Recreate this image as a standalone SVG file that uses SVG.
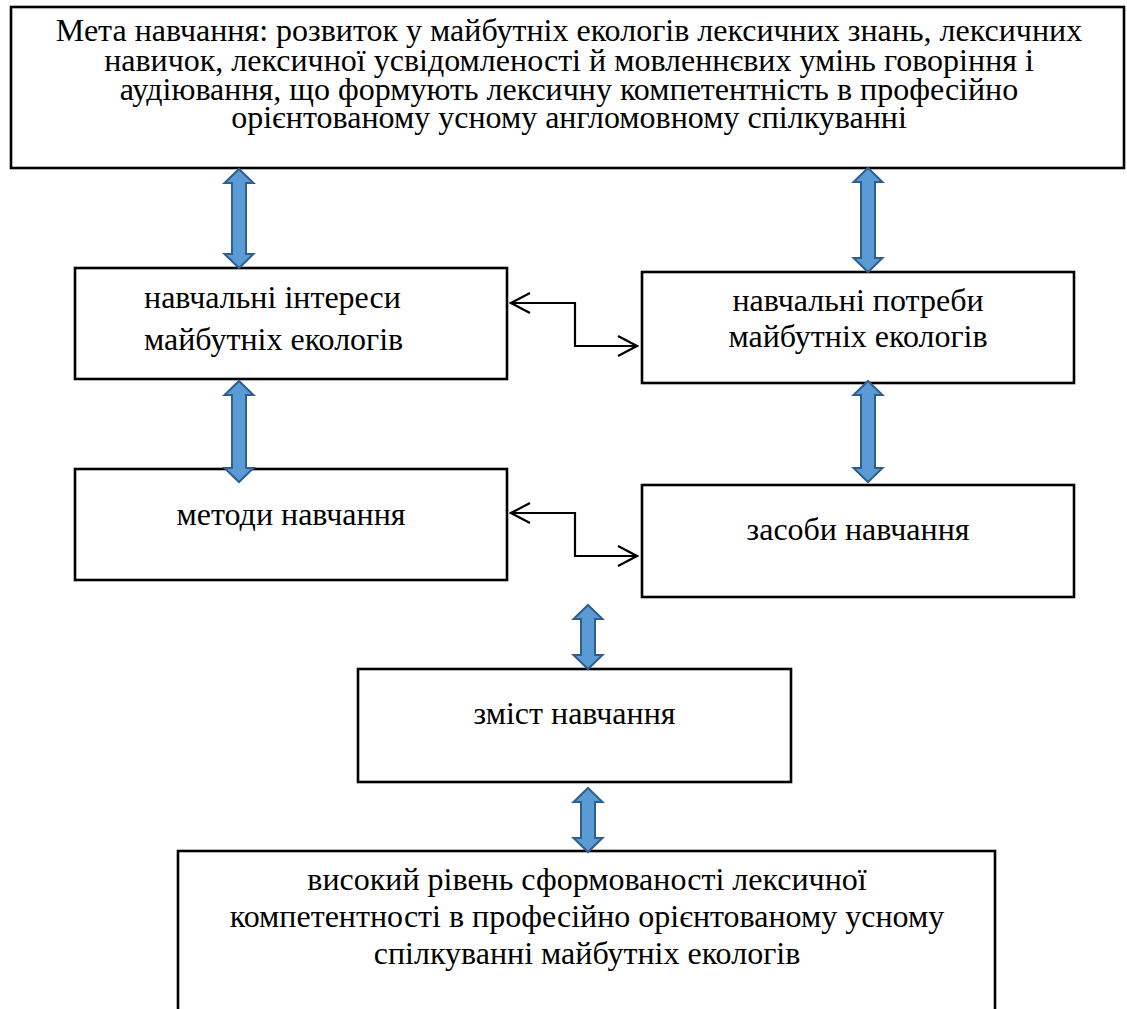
<svg xmlns="http://www.w3.org/2000/svg" width="1127" height="1009" viewBox="0 0 1127 1009">
<style>
.box{fill:#fff;stroke:#000;stroke-width:2.6}
text{font-family:'Liberation Serif','Times New Roman','DejaVu Serif',serif;fill:#000}
.t{font-size:32px}
.tt{font-size:32px}
.m{text-anchor:middle}
.ba{fill:#5B9BD5;stroke:#2F5F8E;stroke-width:2;stroke-linejoin:miter}
.ln{fill:none;stroke:#000;stroke-width:2.2}
</style>
<defs>
<marker id="oa" viewBox="-22 -12 24 24" markerWidth="24" markerHeight="24" refX="0" refY="0" markerUnits="userSpaceOnUse" orient="auto-start-reverse">
<path d="M-19,-10 L0,0 L-19,10" fill="none" stroke="#000" stroke-width="2.2"/>
</marker>
</defs>
<rect width="1127" height="1009" fill="#fff"/>
<g id="goal">
<rect class="box" x="11" y="7" width="1113" height="161"/>
<text class="tt m" x="569" y="41">Мета навчання: розвиток у майбутніх екологів лексичних знань, лексичних</text>
<text class="tt m" x="569" y="71">навичок, лексичної усвідомленості й мовленнєвих умінь говоріння і</text>
<text class="tt m" x="569" y="100">аудіювання, що формують лексичну компетентність в професійно</text>
<text class="tt m" x="569" y="128">орієнтованому усному англомовному спілкуванні</text>
</g>
<g id="interests">
<rect class="box" x="75" y="268" width="432" height="111"/>
<text class="t" x="144" y="308">навчальні інтереси</text>
<text class="t" x="144" y="350">майбутніх екологів</text>
</g>
<g id="needs">
<rect class="box" x="642" y="272" width="432" height="111"/>
<text class="t m" x="858" y="311">навчальні потреби</text>
<text class="t m" x="858" y="347">майбутніх екологів</text>
</g>
<g id="methods">
<rect class="box" x="75" y="469" width="432" height="111"/>
<text class="t m" x="291" y="525">методи навчання</text>
</g>
<g id="means">
<rect class="box" x="642" y="485" width="432" height="112"/>
<text class="t m" x="858" y="540">засоби навчання</text>
</g>
<g id="content">
<rect class="box" x="358" y="669" width="433" height="113"/>
<text class="t m" x="574.5" y="724">зміст навчання</text>
</g>
<g id="result">
<rect class="box" x="178" y="851" width="817" height="180"/>
<text class="t m" x="587" y="890">високий рівень сформованості лексичної</text>
<text class="t m" x="587" y="927">компетентності в професійно орієнтованому усному</text>
<text class="t m" x="587" y="964">спілкуванні майбутніх екологів</text>
</g>
<g id="connectors">
<polygon class="ba" points="239,169 253.5,183 246,183 246,254 253.5,254 239,268 224.5,254 232,254 232,183 224.5,183"/>
<polygon class="ba" points="868,168 882.5,182 875,182 875,258 882.5,258 868,272 853.5,258 861,258 861,182 853.5,182"/>
<polygon class="ba" points="239,381 253.5,395 246,395 246,468 253.5,468 239,482 224.5,468 232,468 232,395 224.5,395"/>
<polygon class="ba" points="868,381 882.5,395 875,395 875,468 882.5,468 868,482 853.5,468 861,468 861,395 853.5,395"/>
<polygon class="ba" points="588,605 602.5,619 595,619 595,655 602.5,655 588,669 573.5,655 581,655 581,619 573.5,619"/>
<polygon class="ba" points="588,788 602.5,802 595,802 595,838 602.5,838 588,852 573.5,838 581,838 581,802 573.5,802"/>
<polyline class="ln" points="511,303 575,303 575,346 637,346" marker-start="url(#oa)" marker-end="url(#oa)"/>
<polyline class="ln" points="511,513 575,513 575,556 637,556" marker-start="url(#oa)" marker-end="url(#oa)"/>
</g>
</svg>
